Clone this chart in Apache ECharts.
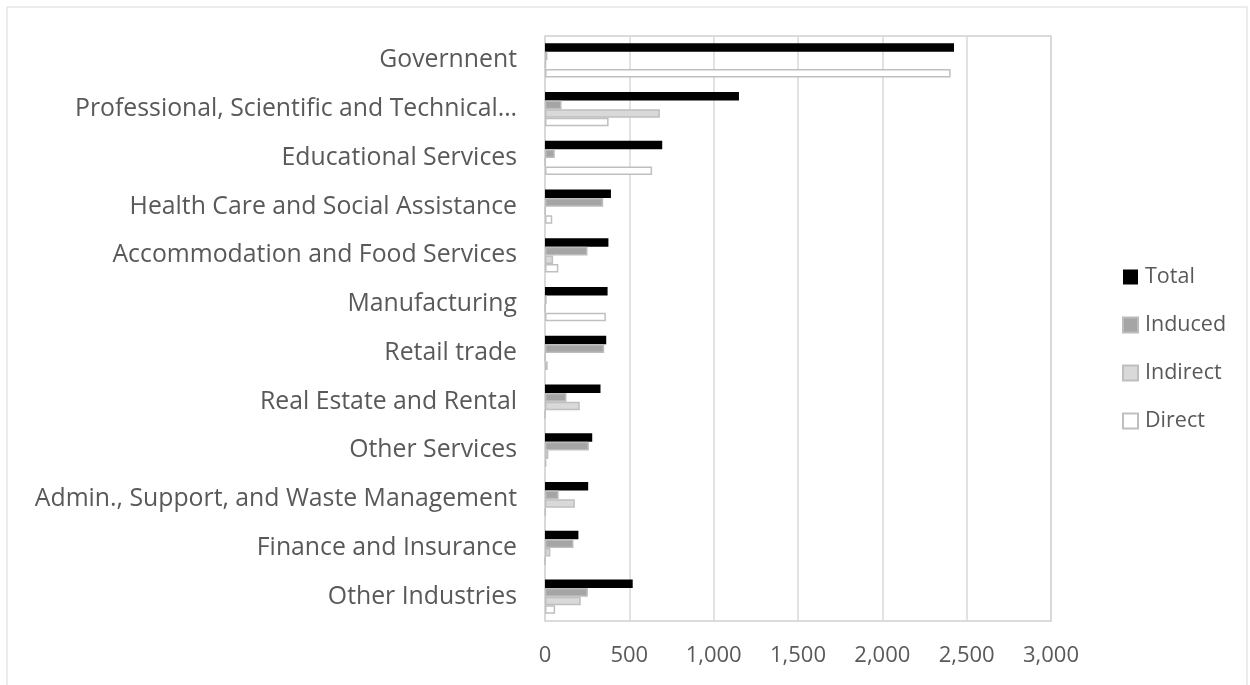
<!DOCTYPE html>
<html>
<head>
<meta charset="utf-8">
<script src="https://cdn.jsdelivr.net/npm/echarts@6/dist/echarts.min.js"></script>
<style>
html,body{margin:0;padding:0;background:#fff;}
#c{width:1250px;height:685px;}
</style>
</head>
<body>
<div id="c"></div>
<script>
var categories = ["Governnent","Professional, Scientific and Technical\u2026","Educational Services","Health Care and Social Assistance","Accommodation and Food Services","Manufacturing","Retail trade","Real Estate and Rental","Other Services","Admin., Support, and Waste Management","Finance and Insurance","Other Industries"];
var totalVals    = [2425, 1150, 695, 391, 376, 371, 363, 329, 280, 256, 198, 520];
var inducedVals  = [14, 98, 58, 345, 252, 10, 351, 127, 260, 81, 169, 254];
var indirectVals = [6, 681, 2, 3, 48, 2, 2, 206, 20, 177, 32, 212];
var directVals   = [2405, 377, 635, 43, 79, 361, 16, 0, 8, 3, 0, 60];
var xTicks = [0, 500, 1000, 1500, 2000, 2500, 3000];

var chart = echarts.init(document.getElementById('c'));
var fontFam = '"Open Sans", "Noto Sans", sans-serif';
function bar(name, data, fill, border) {
  return {
    name: name, type: 'bar', data: data,
    barGap: '0%', barCategoryGap: '30%',
    itemStyle: {color: fill, borderColor: border, borderWidth: border ? 1.5 : 0},
    emphasis: {disabled: true}
  };
}
chart.setOption({
  animation: false,
  graphic: [{type:'rect', shape:{x:7, y:7, width:1240, height:690}, style:{fill:'none', stroke:'#d9d9d9', lineWidth:1}, silent:true}],
  grid: {left: 545, right: 199, top: 36, bottom: 64, containLabel: false, show: true, borderColor: '#d0d0d0', borderWidth: 1.5},
  legend: {
    orient: 'vertical', left: 1122, top: 265, padding: 0, itemGap: 24, itemWidth: 15, itemHeight: 15, icon: 'rect',
    textStyle: {color: '#595959', fontSize: 21.5, fontFamily: fontFam, lineHeight: 24, padding:[0,0,0,2]},
    data: ['Total','Induced','Indirect','Direct']
  },
  xAxis: {
    type: 'value', min: xTicks[0], max: xTicks[xTicks.length-1], interval: 500,
    axisLine: {show: false}, axisTick: {show: false},
    splitLine: {lineStyle: {color: '#d9d9d9', width: 1.5}},
    axisLabel: {color: '#595959', fontSize: 22, fontFamily: fontFam, margin: 24,
      formatter: function(v){ return v.toLocaleString('en-US'); }}
  },
  yAxis: {
    type: 'category', data: categories, inverse: true,
    axisLine: {show: false}, axisTick: {show: false},
    axisLabel: {color: '#595959', fontSize: 24.8, fontFamily: fontFam, margin: 28, padding: [7,0,0,0]}
  },
  series: [
    bar('Total', totalVals, '#000000', null),
    bar('Induced', inducedVals, '#a5a5a5', '#bcbcbc'),
    bar('Indirect', indirectVals, '#d9d9d9', '#bfbfbf'),
    bar('Direct', directVals, '#ffffff', '#bfbfbf')
  ]
});
</script>
</body>
</html>
